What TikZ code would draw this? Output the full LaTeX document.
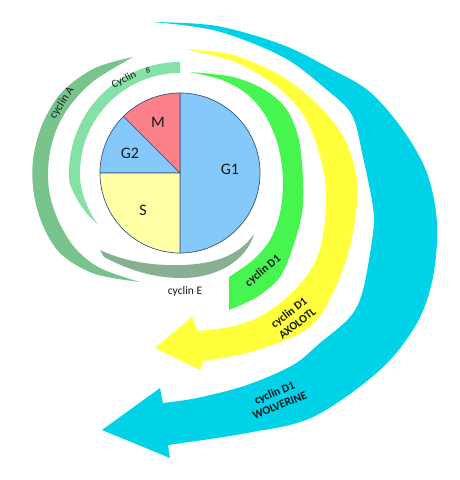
\documentclass[tikz,border=0pt]{standalone}
\usepackage{fontspec}
\setmainfont{Carlito}
\definecolor{cA}{RGB}{120,196,140}
\definecolor{cB}{RGB}{132,226,166}
\definecolor{cE}{RGB}{135,175,145}
\definecolor{cD}{RGB}{70,245,80}
\definecolor{cY}{RGB}{255,255,60}
\definecolor{cC}{RGB}{0,210,232}
\definecolor{pblue}{RGB}{133,200,250}
\definecolor{pred}{RGB}{250,128,138}
\definecolor{pyel}{RGB}{255,255,165}
\definecolor{pieline}{RGB}{55,85,125}
\begin{document}
\begin{tikzpicture}[x=1pt,y=-1pt,
  lbl/.style={font=\fontsize{11.5}{13}\selectfont, text=black!90, inner sep=0pt},
  blbl/.style={font=\bfseries\fontsize{11.5}{13.5}\selectfont, text=black!90, inner sep=0pt, align=center},
  phase/.style={font=\fontsize{16}{17}\selectfont, text=black!90, inner sep=0pt},
  slice/.style={draw=pieline, line width=0.7pt, line join=round}
]
\useasboundingbox[fill=white] (0,0) rectangle (459,480);

% cyan arrow (WOLVERINE)
\fill[cC] plot[smooth,tension=0.55] coordinates {(153,22) (217,26) (283,45) (333,70) (370,92) (403,130) (427,173) (437,223) (433,277) (417,323) (380,370) (313,417) (247,433) (168,445)}
  -- (170,458) -- (102,430) -- (160,388) -- (163,403)
  -- plot[smooth,tension=0.55] coordinates {(163,403) (197,398) (247,385) (293,365) (320,343) (350,317) (363,290) (373,233) (373,207) (363,157) (352,115) (327,90) (283,57) (217,31) (153,22)} -- cycle;

% yellow arrow (AXOLOTL)
\fill[cY] plot[smooth,tension=0.55] coordinates {(185,49) (233,55) (283,77) (320,107) (345,140) (357,180) (355,220) (347,257) (332,295) (315,322) (293,337) (247,353) (203,361)}
  -- (200,370) -- (155,348) -- (192,317) -- (198,331)
  -- plot[smooth,tension=0.55] coordinates {(198,331) (230,327) (257,318) (280,303) (302,282) (318,255) (325,220) (325,180) (315,140) (300,110) (275,85) (235,62) (185,49)} -- cycle;

% green arrow (cyclin D1)
\fill[cD] plot[smooth,tension=0.55] coordinates {(190,72) (233,77) (265,90) (287,110) (299,140) (303,180) (302,213) (293,247) (280,277) (257,297) (229,310)}
  -- (229,277)
  -- plot[smooth,tension=0.55] coordinates {(229,277) (253,260) (270,240) (280,213) (283,180) (278,145) (265,115) (247,94) (222,80) (190,72)} -- cycle;

% cyclin A
\fill[cA] plot[smooth,tension=0.55] coordinates {(133,57) (95,68) (62,92) (42,125) (33,160) (34,195) (44,228) (62,255) (95,274) (140,282)}
  -- plot[smooth,tension=0.55] coordinates {(140,282) (100,268) (75,248) (58,220) (49,190) (49,158) (57,128) (72,103) (95,80) (133,57)} -- cycle;

% cyclin B
\fill[cB] plot[domain=90:212, samples=70, variable=\t] ({180+(111-14*max(0,(\t-185)/27))*cos(\t)}, {173-(111-14*max(0,(\t-185)/27))*sin(\t)})
  -- plot[domain=212:90, samples=70, variable=\t] ({180+(100-3*max(0,(\t-185)/27))*cos(\t)}, {173-(100-3*max(0,(\t-185)/27))*sin(\t)}) -- cycle;

% cyclin E
\fill[cE] (100,250) .. controls (125,262) and (155,266) .. (182,265)
  .. controls (215,264) and (240,255) .. (254,234)
  .. controls (246,262) and (215,278) .. (182,278)
  .. controls (150,278) and (125,268) .. (104,257) -- cycle;

% pie
\begin{scope}[shift={(180,173)}, y=1pt]
  \filldraw[slice, fill=pblue] (0,0) -- (90:80) arc (90:-90:80) -- cycle;
  \filldraw[slice, fill=pred] (0,0) -- (90:80) arc (90:135:80) -- cycle;
  \filldraw[slice, fill=pblue] (0,0) -- (135:80) arc (135:180:80) -- cycle;
  \filldraw[slice, fill=pyel] (0,0) -- (180:80) arc (180:270:80) -- cycle;
\end{scope}

\node[phase] (pm) at (158,122) {M};
\node[phase] (pg2) at (130,153) {G2};
\node[phase] (pg1) at (230,169) {G1};
\node[phase] (ps) at (143,210) {S};

% labels
\node[lbl, rotate=57] (ta) at (62,103) {cyclin A};
\node[lbl, font=\fontsize{11}{12}\selectfont, rotate=28] (tb) at (124,80) {Cyclin};
\node[lbl, font=\fontsize{8}{9}\selectfont, rotate=16] (tb2) at (148,70) {B};
\node[lbl] (te) at (185,291) {cyclin E};
\node[blbl, rotate=40] (td) at (263,271) {cyclin D1};
\node[blbl, rotate=38] (tx) at (293,318) {cyclin D1\\AXOLOTL};
\node[blbl, rotate=22] (tw) at (277,399) {cyclin D1\\WOLVERINE};
\end{tikzpicture}
\end{document}
